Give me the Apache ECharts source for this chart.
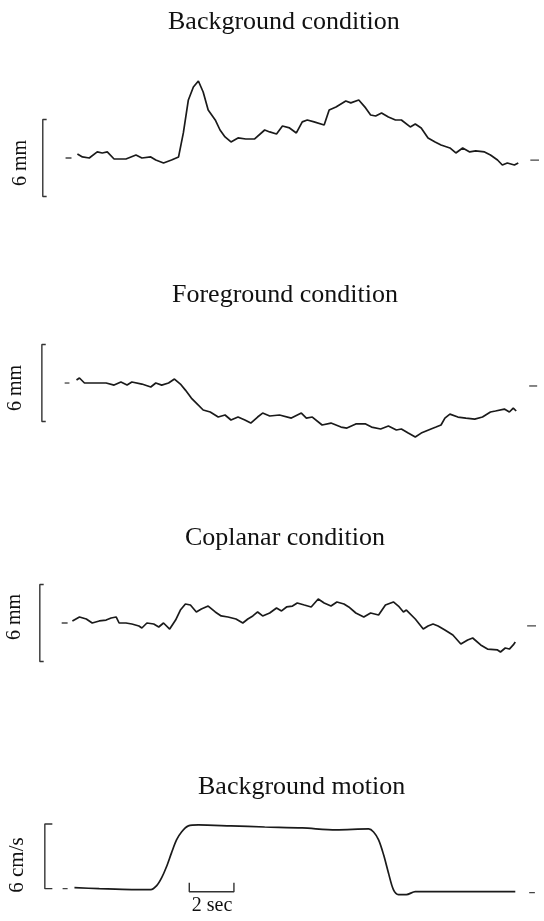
<!DOCTYPE html>
<html>
<head>
<meta charset="utf-8">
<script src="https://cdn.jsdelivr.net/npm/echarts@6/dist/echarts.min.js"></script>
<style>
html,body{margin:0;padding:0;background:#fff;}
#chart{width:544px;height:921px;}
</style>
</head>
<body>
<div id="chart"></div>
<script>
// ---- Data (time in seconds, displacement in mm, velocity in cm/s) ----
const titles = ['Background condition', 'Foreground condition', 'Coplanar condition', 'Background motion'];
const unitLabels = ['6 mm', '6 mm', '6 mm', '6 cm/s'];
const timeBarLabel = '2 sec';

const bgTime = [0.52,0.74,1.04,1.39,1.61,1.83,2.13,2.65,3.09,3.35,3.74,3.96,4.30,4.65,4.96,5.17,5.39,5.61,5.83,6.04,6.26,6.57,6.78,7.00,7.26,7.57,7.91,8.30,8.74,8.96,9.26,9.52,9.83,10.13,10.39,10.61,10.91,11.35,11.57,11.87,12.30,12.52,12.87,13.17,13.39,13.61,13.87,14.17,14.48,14.74,15.13,15.35,15.61,15.91,16.22,16.48,16.87,17.13,17.43,17.74,18.00,18.39,18.65,18.96,19.17,19.39,19.70,19.87];
const bgVal = [0.31,0.08,0,0.47,0.39,0.47,-0.08,-0.08,0.23,0,0.08,-0.16,-0.39,-0.16,0.08,1.95,4.52,5.53,6.0,5.14,3.74,2.96,2.18,1.64,1.25,1.56,1.48,1.48,2.18,2.03,1.87,2.49,2.34,1.95,2.81,2.96,2.81,2.57,3.74,3.97,4.44,4.29,4.52,3.90,3.35,3.27,3.51,3.19,2.96,2.96,2.42,2.65,2.34,1.56,1.25,1.01,0.78,0.39,0.78,0.47,0.55,0.47,0.23,-0.16,-0.55,-0.39,-0.55,-0.39];

const fgTime = [0.48,0.61,0.83,1.35,1.78,2.13,2.43,2.70,2.91,3.35,3.74,3.96,4.22,4.52,4.78,5.04,5.26,5.52,5.74,6.04,6.35,6.70,7.00,7.26,7.57,7.87,8.13,8.43,8.65,8.96,9.39,9.91,10.35,10.57,10.83,11.26,11.65,12.09,12.35,12.74,13.17,13.43,13.83,14.17,14.52,14.74,15.04,15.35,15.61,16.04,16.26,16.48,16.65,16.87,17.22,17.57,17.96,18.30,18.65,18.87,19.26,19.48,19.65,19.78];
const fgVal = [0.23,0.39,0,0,0,-0.16,0.08,-0.16,0.08,-0.08,-0.31,0,-0.16,0,0.31,-0.08,-0.55,-1.17,-1.56,-2.10,-2.26,-2.65,-2.49,-2.88,-2.65,-2.88,-3.12,-2.65,-2.34,-2.57,-2.49,-2.73,-2.34,-2.73,-2.65,-3.27,-3.12,-3.43,-3.51,-3.19,-3.19,-3.43,-3.58,-3.35,-3.66,-3.58,-3.90,-4.21,-3.90,-3.58,-3.43,-3.27,-2.73,-2.42,-2.65,-2.73,-2.81,-2.65,-2.26,-2.18,-2.03,-2.26,-1.95,-2.18,-2.34];

const coTime = [0.30,0.61,0.91,1.17,1.48,1.78,2.00,2.22,2.35,2.65,2.91,3.22,3.35,3.57,3.87,4.09,4.30,4.57,4.83,5.04,5.26,5.48,5.74,5.96,6.26,6.57,6.83,7.13,7.48,7.78,8.00,8.22,8.43,8.65,8.96,9.26,9.48,9.70,9.96,10.17,10.48,10.78,11.09,11.35,11.65,11.91,12.22,12.43,12.74,13.09,13.39,13.74,14.04,14.39,14.61,14.83,14.96,15.35,15.70,15.91,16.13,16.35,16.65,17.00,17.35,17.65,17.87,18.22,18.52,18.96,19.09,19.30,19.48,19.65,19.74];
const coVal = [0.16,0.47,0.31,0,0.16,0.23,0.39,0.47,0,0,-0.08,-0.23,-0.39,0,-0.08,-0.31,0,-0.47,0.23,1.01,1.48,1.40,0.86,1.09,1.32,0.86,0.55,0.47,0.31,0,0.31,0.55,0.86,0.55,0.78,1.17,0.94,1.25,1.32,1.56,1.40,1.25,1.87,1.56,1.32,1.64,1.48,1.25,0.78,0.47,0.78,0.62,1.40,1.64,1.32,0.86,1.01,0.31,-0.47,-0.23,-0.08,-0.23,-0.55,-0.94,-1.64,-1.32,-1.17,-1.71,-2.03,-2.10,-2.26,-1.95,-2.03,-1.71,-1.48];

const motTime = [0.39,1.48,2.91,3.74,4.00,4.22,4.43,4.65,4.87,5.09,5.39,5.83,7.26,8.74,10.39,11.87,13.30,13.52,13.74,13.96,14.17,14.39,14.61,14.96,15.35,16.22,17.65,19.74];
const motVal = [0.09,0,-0.09,-0.09,0.28,1.02,2.03,3.32,4.52,5.26,5.82,5.91,5.82,5.72,5.63,5.45,5.54,5.26,4.52,3.14,1.48,-0.09,-0.55,-0.55,-0.28,-0.28,-0.28,-0.28];

// zero-level reference dashes [start, end, level] per panel (left / right)
const leftDash = [[0.0,0.26,0],[-0.04,0.17,0],[-0.17,0.09,0],[-0.13,0.09,0]];
const rightDash = [[20.4,20.78,-0.16],[20.35,20.7,-0.23],[20.26,20.65,-0.23],[20.35,20.6,-0.37]];
// vertical calibration bars: [time, low, high]
const calBars = [[-1.0,-3,3],[-1.04,-3,3],[-1.13,-3,3],[-0.91,0,6]];
// time calibration bar: 2 s
const timeBar = [5.43, 7.39];

// ---- Layout ----
const PX_PER_S = 23;
const axisX = {min:-2, max:21};
const panels = [
  {top:55.3, height:147.6, min:-3.5, max:8},
  {top:338.1, height:109.1, min:-5, max:3.5},
  {top:578.1, height:89.8, min:-3.5, max:3.5},
  {top:813.2, height:108.3, min:-3, max:7}
];
const traces = [[bgTime,bgVal],[fgTime,fgVal],[coTime,coVal],[motTime,motVal]];
const ink = '#1a1a1a';

const grid = [], xAxis = [], yAxis = [], series = [];
panels.forEach((p, i) => {
  grid.push({left:20, width:(axisX.max-axisX.min)*PX_PER_S, top:p.top, height:p.height});
  xAxis.push({type:'value', gridIndex:i, min:axisX.min, max:axisX.max, show:false});
  yAxis.push({type:'value', gridIndex:i, min:p.min, max:p.max, show:false});
  const [tt, vv] = traces[i];
  series.push({type:'line', xAxisIndex:i, yAxisIndex:i, data:tt.map((t,k)=>[t,vv[k]]),
    showSymbol:false, smooth: i===3 ? 0.3 : false, lineStyle:{color:ink, width:1.7}, clip:false, silent:true});
  const ld = leftDash[i], rd = rightDash[i];
  series.push({type:'line', xAxisIndex:i, yAxisIndex:i, data:[[ld[0],ld[2]],[ld[1],ld[2]]],
    showSymbol:false, lineStyle:{color:'#444', width:1.3}, clip:false, silent:true});
  series.push({type:'line', xAxisIndex:i, yAxisIndex:i, data:[[rd[0],rd[2]],[rd[1],rd[2]]],
    showSymbol:false, lineStyle:{color:'#444', width:1.3}, clip:false, silent:true});
  const cb = calBars[i];
  const tick = i===3 ? 0.33 : 0.17;
  series.push({type:'line', xAxisIndex:i, yAxisIndex:i,
    data:[[cb[0]+tick,cb[2]],[cb[0],cb[2]],[cb[0],cb[1]],[cb[0]+tick,cb[1]]],
    showSymbol:false, lineStyle:{color:'#333', width:1.4}, clip:false, silent:true});
});
// time bar in the motion panel
series.push({type:'line', xAxisIndex:3, yAxisIndex:3,
  data:[[timeBar[0],0.55],[timeBar[0],-0.28],[timeBar[1],-0.28],[timeBar[1],0.55]],
  showSymbol:false, lineStyle:{color:'#333', width:1.4}, clip:false, silent:true});

const serif = '"Liberation Serif", "DejaVu Serif", serif';
const graphic = [];
const titlePos = [[168,24],[172,297],[185,540],[198,789]];
titles.forEach((t,i)=>{
  graphic.push({type:'text', left:titlePos[i][0], top:titlePos[i][1]-15, style:{text:t, font:'26px '+serif, fill:'#111'}});
});
const unitPos = [[21,163],[16,388],[15,617],[17,865]];
unitLabels.forEach((t,i)=>{
  graphic.push({type:'text', x:unitPos[i][0], y:unitPos[i][1], rotation:Math.PI/2,
    style:{text:t, font:(i===3?'21px ':'20px ')+serif, fill:'#111', textAlign:'center', textVerticalAlign:'middle'}});
});
graphic.push({type:'text', x:212, y:906, style:{text:timeBarLabel, font:'20px '+serif, fill:'#111', textAlign:'center', textVerticalAlign:'middle'}});

const chart = echarts.init(document.getElementById('chart'), null, {renderer:'canvas'});
chart.setOption({animation:false, backgroundColor:'#fff', grid, xAxis, yAxis, series, graphic});
</script>
</body>
</html>
